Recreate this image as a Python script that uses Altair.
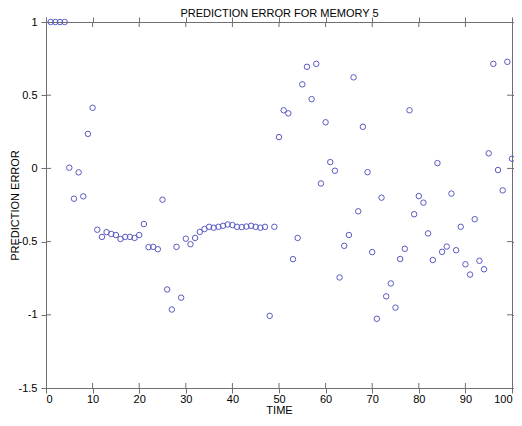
import altair as alt
import pandas as pd

time = list(range(1, 101))
error = [
    1, 1, 1, 1, 0.005, -0.207, -0.027, -0.191, 0.236, 0.414,
    -0.419, -0.468, -0.435, -0.448, -0.455, -0.482, -0.468, -0.468, -0.475, -0.455,
    -0.380, -0.538, -0.536, -0.552, -0.214, -0.827, -0.964, -0.536, -0.883, -0.480,
    -0.518, -0.475, -0.434, -0.414, -0.399, -0.405, -0.399, -0.392, -0.383, -0.387,
    -0.399, -0.401, -0.397, -0.392, -0.399, -0.405, -0.399, -1.007, -0.399, 0.214,
    0.397, 0.376, -0.620, -0.475, 0.574, 0.694, 0.473, 0.714, -0.103, 0.315,
    0.043, -0.016, -0.745, -0.529, -0.455, 0.622, -0.293, 0.284, -0.026, -0.572,
    -1.027, -0.200, -0.874, -0.786, -0.951, -0.619, -0.549, 0.397, -0.313, -0.189,
    -0.234, -0.444, -0.626, 0.036, -0.570, -0.534, -0.172, -0.559, -0.399, -0.655,
    -0.725, -0.347, -0.631, -0.689, 0.103, 0.714, -0.011, -0.150, 0.728, 0.066,
]
x_ticks = [0, 10, 20, 30, 40, 50, 60, 70, 80, 90, 100]
y_ticks = [-1.5, -1, -0.5, 0, 0.5, 1]
x_inner = [10, 20, 30, 40, 50, 60, 70, 80, 90]
y_inner = [-1, -0.5, 0, 0.5]
title_text = "PREDICTION ERROR FOR MEMORY 5"

W, H = 466, 366
FONT = "Liberation Sans"
GRAY = "#6f6f6f"
PT = "#5a5ac4"

df = pd.DataFrame({"time": time, "error": error})
xs = alt.Scale(domain=[0, 100], nice=False, zero=False)
ys = alt.Scale(domain=[-1.5, 1], nice=False, zero=False)

common = dict(domain=True, domainColor=GRAY, domainWidth=1, grid=False,
              tickSize=5, tickColor=GRAY, tickWidth=1, tickOpacity=1,
              offset=0, labelFont=FONT, labelFontSize=11, labelColor="black",
              titleFont=FONT, titleFontSize=11, titleFontWeight="normal",
              titleColor="black")

x_bottom = alt.Axis(orient="bottom", values=x_ticks, labelPadding=0,
                    title="TIME", titleY=22, titleBaseline="middle", **common)
y_left = alt.Axis(orient="left", values=y_ticks, labelPadding=4,
                  labelExpr="'' + datum.value",
                  title="PREDICTION ERROR", titleX=-31, titleY=H / 2,
                  titleAngle=270, titleAlign="center", titleBaseline="middle",
                  **common)
x_top = alt.Axis(orient="top", values=x_ticks, labels=False,
                 title=title_text, titleX=W / 2, titleY=-9,
                 titleAlign="center", titleBaseline="middle", **common)
y_right = alt.Axis(orient="right", values=y_ticks, labels=False, title=None,
                   **common)

points = alt.Chart(df).mark_point(
    shape="circle", filled=False, size=30, strokeWidth=1, color=PT, opacity=1
).encode(
    x=alt.X("time:Q", scale=xs, axis=x_bottom),
    y=alt.Y("error:Q", scale=ys, axis=y_left),
)

frame = alt.Chart(df).mark_point(opacity=0).encode(
    x=alt.X("time:Q", scale=xs, axis=x_top),
    y=alt.Y("error:Q", scale=ys, axis=y_right),
)

xt = alt.Chart(pd.DataFrame({"t": x_inner}))
yt = alt.Chart(pd.DataFrame({"v": y_inner}))
rule_style = dict(color=GRAY, strokeWidth=1, opacity=1)

bottom_ticks = xt.mark_rule(**rule_style).encode(
    x=alt.X("t:Q", scale=xs, axis=None), y=alt.value(H - 5), y2=alt.value(H))
top_ticks = xt.mark_rule(**rule_style).encode(
    x=alt.X("t:Q", scale=xs, axis=None), y=alt.value(0), y2=alt.value(5))
left_ticks = yt.mark_rule(**rule_style).encode(
    y=alt.Y("v:Q", scale=ys, axis=None), x=alt.value(0), x2=alt.value(5))
right_ticks = yt.mark_rule(**rule_style).encode(
    y=alt.Y("v:Q", scale=ys, axis=None), x=alt.value(W - 5), x2=alt.value(W))

chart = alt.layer(
    frame, points, bottom_ticks, top_ticks, left_ticks, right_ticks
).resolve_scale(
    x="independent", y="independent"
).resolve_axis(
    x="independent", y="independent"
).properties(
    width=W, height=H,
    autosize=alt.AutoSizeParams(type="none"),
    padding={"left": 38, "top": 14, "right": 2, "bottom": 26},
    background="white",
).configure_view(stroke=GRAY, strokeWidth=1)

chart.save("out.html", embed_options={"renderer": "svg", "actions": False})
